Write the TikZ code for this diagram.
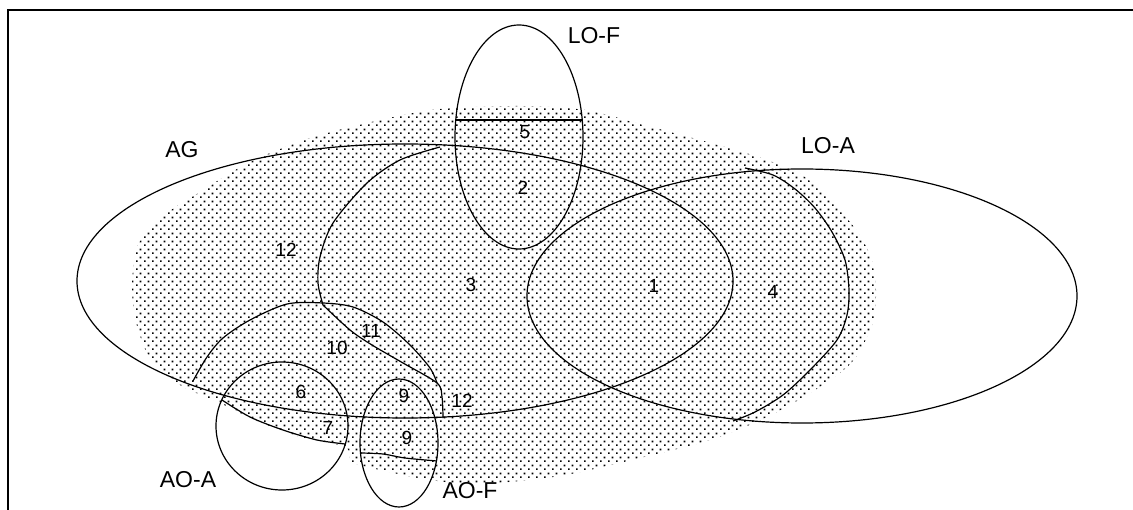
\documentclass[tikz,border=0pt]{standalone}
\usepackage{fontspec}
\setmainfont{Liberation Sans}
\usetikzlibrary{patterns}
\pgfdeclarepatternformonly{stip}{\pgfpointorigin}{\pgfpoint{8pt}{8pt}}{\pgfpoint{8pt}{8pt}}{%
  \pgfpathrectangle{\pgfpoint{0pt}{0pt}}{\pgfpoint{1.9pt}{1.9pt}}%
  \pgfpathrectangle{\pgfpoint{4pt}{4pt}}{\pgfpoint{1.9pt}{1.9pt}}%
  \pgfusepath{fill}}
\begin{document}
\begin{tikzpicture}[x=1pt,y=-1pt,
  curve/.style={draw=black, line width=1.2pt},
  lab/.style={font=\fontsize{23}{23}\selectfont, inner sep=0pt},
  num/.style={font=\fontsize{19}{19}\selectfont, inner sep=0pt}]
\useasboundingbox (0,0) rectangle (1133,510);
\fill[white] (0,0) rectangle (1133,510);
% stippled region
\fill[pattern=stip] plot[smooth cycle] coordinates {
 (132,285) (138,245) (160,218) (200,192) (250,162) (310,138) (380,120)
 (440,109) (520,106) (585,110) (640,124) (700,140) (755,156) (805,177)
 (850,222) (870,255) (876,290) (872,325) (852,362) (815,390) (765,418)
 (710,440) (640,458) (560,476) (480,484) (430,480) (380,470) (352,462)
 (345,447) (300,437) (255,420) (218,402) (180,385) (150,358) (136,322)};
% frame
\draw[line width=2.5pt] (8,510) -- (8,10) -- (1133,10);
% AG
\draw[curve] (405,281) ellipse [x radius=328pt, y radius=137pt];
% LO-A
\draw[curve] (802,296) ellipse [x radius=275pt, y radius=127pt];
% LO-F
\draw[curve] (519,137) ellipse [x radius=64pt, y radius=112pt];
\draw[curve] (455.7,120) -- (582.3,120);
% region 3 boundary
\draw[curve] plot[smooth] coordinates {(440,147) (400,160) (367,183) (333,223) (320,257) (318,283) (323,305)}
  -- plot[smooth] coordinates {(323,305) (350,330) (372,345) (403,363) (437,383) (442,397) (443,418)};
% AO circle (10/11)
\draw[curve] plot[smooth] coordinates {(193,381) (207,357) (223,338) (250,320) (287,304) (323,303) (353,307) (383,322) (410,345) (430,368) (437,383)};
% region 4 arc
\draw[curve] plot[smooth] coordinates {(745,168) (773,175) (795,189) (815,208) (832,232) (845,260) (849,290) (847,315) (837,340) (810,370) (783,395) (755,412) (733,421)};
% AO-A
\draw[curve] (282,426) ellipse [x radius=66pt, y radius=64pt];
\draw[curve] plot[smooth] coordinates {(222,400) (250,417) (283,430) (317,440) (345,444)};
% AO-F
\draw[curve] (399,443) ellipse [x radius=39pt, y radius=64pt];
\draw[curve] plot[smooth] coordinates {(361,453) (383,454) (405,458) (437,461)};
% labels
\node[lab] (tAG) at (182,150) {AG};
\node[lab] (tLOF) at (594,36) {LO-F};
\node[lab] (tLOA) at (828,146) {LO-A};
\node[lab] (tAOA) at (188,480) {AO-A};
\node[lab] (tAOF) at (470,491) {AO-F};
\node[num] (n5) at (525,132) {5};
\node[num] (n2) at (523,188) {2};
\node[num] (n12a) at (286,250) {12};
\node[num] (n3) at (471,285) {3};
\node[num] (n1) at (654,286) {1};
\node[num] (n4) at (773,292) {4};
\node[num] (n11) at (371,331) {11};
\node[num] (n10) at (337,348) {10};
\node[num] (n6) at (301,392) {6};
\node[num] (n7) at (328,428) {7};
\node[num] (n9a) at (404,396) {9};
\node[num] (n9b) at (407,438) {9};
\node[num] (n12b) at (462,401) {12};
\end{tikzpicture}
\end{document}
